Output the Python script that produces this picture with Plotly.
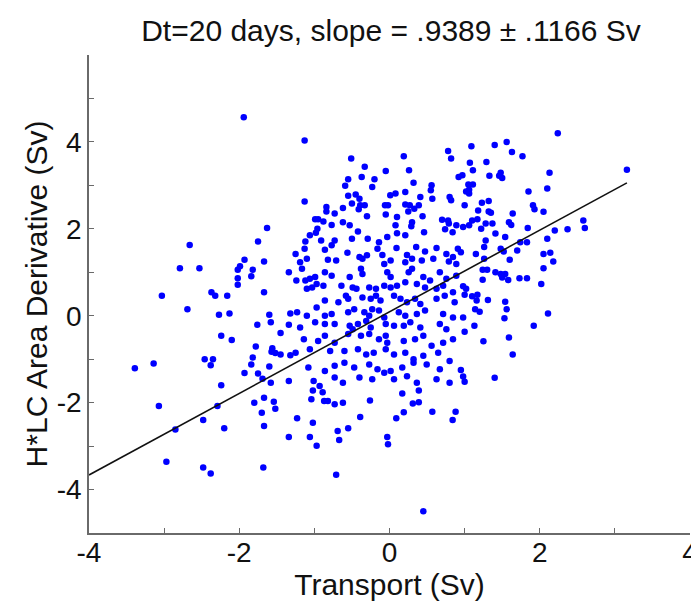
import plotly.graph_objects as go

# Transport (Sv) and H*LC area derivative (Sv)
transport = [
    -1.94, -1.63, -1.75, -2.66,
    -2.79, -2.53, -1.93, -1.99, -2.02, -1.82, -1.84, -2.02, -2.02, -1.67, -1.34, -3.03, -2.69,
    -2.37, -2.32, -2.16, -1.67, -2.27, -2.13, -1.60, -1.58, -1.76, -1.34, -1.32, -1.45, -2.24,
    -2.10, -1.78, -1.56, -1.52, -1.45, -1.57, -1.32, -1.82, -1.84, -1.60, -3.39, -3.14, -2.46,
    -2.35, -2.38, -1.93, -1.75, -1.69, -2.24, -1.58, -1.34,
    -3.07, -2.29, -2.48, -2.85, -2.20, -1.80, -1.67, -1.54, -1.52, -1.70, -1.67, -1.34, -2.97,
    -2.48, -2.38, -1.68,
    -1.02, -0.89, -1.04, -0.87, -0.82, -0.73, -0.62, -0.93, -0.26, -1.23, -1.02, -1.06, -0.97,
    -0.69, -0.67, -0.55, -0.39, -0.03, -0.02, -0.71, 0.45, 0.17, 0.39, 0.31, 0.39, 0.19, 0.09,
    0.57, 0.88, 0.84,
]
derivative = [
    4.57, 2.02, 1.71, 1.63,
    1.09, 1.09, 1.29, 1.14, 1.06, 1.06, 0.91, 0.86, 0.71, 1.25, 1.00, 0.46, 0.15,
    0.54, 0.46, 0.46, 0.54, 0.02, 0.05, 0.02, -0.15, -0.21, -0.21, 0.05, -0.40, -0.46,
    -0.56, -0.71, -0.75, -0.86, -0.89, -0.83, -0.91, -0.96, -1.12, -1.17, -1.21, -1.10, -1.00,
    -1.00, -1.14, -1.32, -1.33, -1.45, -1.60, -1.54, -1.50,
    -2.08, -2.08, -2.40, -2.62, -2.59, -2.00, -1.89, -1.98, -2.14, -2.23, -2.54, -2.79, -3.36,
    -3.49, -3.63, -3.49,
    -1.72, -1.76, -1.92, -1.96, -1.96, -2.04, -2.00, -1.62, -1.95, -2.36, -2.46, -2.79, -2.99,
    -2.65, -2.86, -2.59, -2.33, -2.79, -2.96, -3.66, -4.50, -1.79, -1.72, -2.02, -1.99, -2.22, -2.36,
    -2.21, -2.21, -2.40,
]

transport_b = [
    0.95, 1.15, 1.26, 1.26, 1.48, 1.52, 1.70, 1.60, 2.05, 2.14, 2.18, 2.05, 2.02, 1.73, 1.83,
    1.24, 1.30, 1.24, 1.41, 1.48, 1.54, 1.50, 1.58, 0.98, 1.02, 1.00, 1.10, 1.17, 1.16, 1.31,
    1.54, 1.56, 1.14, 1.20, 0.98, 1.53, 2.11, 1.13, 1.00, 1.92, 1.59, 1.25, 1.64, 1.40, 0.95,
    0.98, 1.00,
    2.24, 3.16, 1.09, 1.40, 1.56, 1.63, 1.77, 1.29, 1.07, 1.11, 0.97, 1.33, 1.46, 1.50, 1.48,
    2.13, 2.10, 1.85, 1.05, 1.11, 1.06, 1.02, 1.06, 1.00, 1.23, 1.32, 1.18, 1.32, 1.35, 1.64,
    1.91, 1.93, 2.05, 1.59, 1.62, 1.10, 1.17, 1.28, 1.37, 0.98, 1.06, 1.22, 1.41, 1.54, 1.84,
    2.20, 2.37, 2.58, 2.60, 2.10, 1.28, 1.74, 1.83,
]
derivative_b = [
    1.46, 1.42, 1.58, 1.31, 1.54, 1.48, 1.50, 1.29, 1.42, 1.45, 1.25, 1.09, 0.73, 0.86, 0.86,
    1.06, 1.06, 0.83, 1.00, 0.96, 0.96, 0.88, 0.82, 0.68, 0.62, 0.48, 0.45, 0.48, 0.35, 0.36,
    0.32, 0.15, 0.15, 0.09, -0.04, -0.06, 0.05, -0.23, -0.37, -0.23, -0.50, -0.59, -0.89, -1.43, -1.25,
    -1.40, -1.52,
    4.20, 3.36, 3.90, 3.93, 4.00, 3.77, 3.67, 3.54, 3.52, 3.35, 3.23, 3.22, 3.22, 3.17, 3.29,
    3.29, 2.93, 2.86, 3.02, 3.02, 2.90, 2.86, 2.81, 2.54, 2.60, 2.64, 2.42, 2.40, 2.37, 2.35,
    2.54, 2.45, 2.39, 2.15, 2.09, 2.19, 2.22, 2.12, 2.12, 2.04, 2.08, 2.00, 1.89, 1.81, 2.02,
    1.96, 1.99, 2.19, 2.02, 1.77, 1.73, 1.69, 1.69,
]

transport_c = [
    -1.13, -1.13, -0.51, -0.33, 0.19, 0.26, -0.05, -0.37, -0.20, -0.55, -0.59, -0.23, 0.32, 0.78,
    0.82, 0.92, 0.56, 0.55, 0.57, 0.80, 0.82, -0.55, -0.45, -0.40, -0.50, -0.39, -0.33, -0.41,
    -0.30, -0.84, -0.84, -0.73, -0.62, 0.01, 0.08, 0.21, -0.06, -0.02, -0.05, 0.10, 0.21, 0.27,
    0.33, 0.39, 0.41, 0.25, 0.44, 0.30, 0.29, 0.08, 0.10, 0.21, 0.46, 0.70, 0.78, 0.79, 0.84,
    0.74, 0.89, -0.99, -0.95, -0.88, -0.77, -0.62, -0.53, -0.42, -0.29, -0.96, -0.98, -1.06,
    -1.12, -0.91, -0.73, -0.50, -0.03, -0.14,
]
derivative_c = [
    4.03, 2.63, 3.62, 3.43, 3.67, 3.35, 3.33, 3.19, 3.14, 3.14, 2.99, 2.96, 3.06, 3.79,
    3.62, 3.19, 3.00, 2.89, 2.69, 2.73, 2.66, 2.76, 2.79, 2.69, 2.58, 2.54, 2.54, 2.45,
    2.29, 2.50, 2.40, 2.35, 2.48, 2.77, 2.81, 2.85, 2.54, 2.54, 2.33, 2.27, 2.56, 2.54,
    2.46, 2.54, 2.73, 2.40, 2.29, 2.15, 2.06, 2.08, 1.90, 1.85, 1.92, 2.21, 2.19, 2.12, 1.92,
    1.99, 2.08, 2.22, 2.22, 2.17, 2.09, 2.15, 2.08, 1.94, 1.77, 2.00, 1.91, 1.85,
    1.71, 1.73, 1.73, 1.77, 1.81, 1.69,
]

# dense central cloud
transport_d = [
    -1.25, -1.13, -0.86, -0.77, -0.56, -0.40, -0.30, -0.16, -0.095, 0.093, 0.233, 0.355, 0.473,
    0.626, 0.757, 0.91, 0.845,
    -1.19, -1.10, -0.82, -0.71, -0.36, -0.07, 0.015, 0.21, 0.30, 0.43, 0.583, 0.79, 0.889,
    -1.165, -1.06, -0.99, -0.86, -0.77, -0.53, -0.38, -0.36, -0.03, 0.015, 0.255, 0.30, 0.45,
    0.54, 0.67, 0.757, 0.889, -1.24, -1.12,
    -1.10, -1.03, -0.97, -0.88, -0.64, -0.49, -0.44, -0.27, -0.18, -0.07, 0.015, 0.10, 0.21,
    0.364, 0.473, 0.626, 0.714, 0.845,
    -0.86, -0.68, -0.55, -0.58, -0.36, -0.25, -0.18, -0.12, 0.06, 0.146, 0.233, 0.34, 0.41,
    0.626, 0.735, 0.867, -0.97,
    -1.23, -1.10, -0.86, -0.77, -0.55, -0.47, -0.335, -0.27, -0.23, -0.14, -0.07, 0.124, 0.21,
    0.364, 0.473, 0.714, 0.845,
    -1.19, -0.99, -0.86, -0.73, -0.53, -0.49, -0.42, -0.31, -0.25, -0.05, 0.06, 0.19, 0.277,
    0.41, 0.67, 0.757,
    -1.14, -0.95, -0.86, -0.73, -0.55, -0.38, -0.27, -0.14, -0.05, -0.03, 0.19, 0.34, 0.45,
    0.56, 0.714, 0.845,
    -1.25, -1.06, -0.79, -0.60, -0.42, -0.31, -0.21, -0.05, 0.06, 0.21, 0.32, 0.45, 0.648,
    -1.08, -0.86, -0.73, -0.60, -0.47, -0.27, -0.16, 0.015, 0.17, 0.32, 0.495, 0.67, 0.80,
    -1.01, -0.73, -0.62, -0.40, -0.23, -0.07, 0.06, 0.233, 0.364, 0.626, 0.80,
]
derivative_d = [
    1.42, 1.54, 1.52, 1.62, 1.45, 1.35, 1.39, 1.54, 1.40, 1.56, 1.40, 1.58, 1.48,
    1.56, 1.42, 1.54, 1.35,
    1.23, 1.31, 1.29, 1.27, 1.31, 1.19, 1.27, 1.23, 1.31, 1.27, 1.31, 1.25, 1.19,
    1.08, 0.85, 0.89, 1.00, 0.92, 0.89, 1.08, 0.96, 1.00, 0.89, 1.00, 1.08, 0.89,
    0.81, 1.00, 0.85, 0.92, 0.81, 0.81,
    0.62, 0.65, 0.73, 0.69, 0.69, 0.65, 0.62, 0.65, 0.62, 0.69, 0.65, 0.69, 0.77,
    0.73, 0.65, 0.62, 0.69, 0.54,
    0.35, 0.31, 0.39, 0.46, 0.42, 0.39, 0.46, 0.35, 0.46, 0.39, 0.31, 0.39, 0.27,
    0.39, 0.46, 0.31, 0.19,
    0.08, 0.00, 0.00, 0.04, 0.08, 0.15, 0.08, 0.00, 0.15, 0.12, -0.04, 0.08, 0.00,
    0.04, 0.12, 0.04, -0.04,
    -0.27, -0.15, -0.19, -0.19, -0.23, -0.31, -0.19, -0.12, -0.27, -0.19, -0.23, -0.23, -0.15,
    -0.27, -0.19, -0.31,
    -0.54, -0.58, -0.46, -0.62, -0.42, -0.46, -0.42, -0.54, -0.46, -0.62, -0.58, -0.54, -0.46,
    -0.69, -0.62, -0.54,
    -0.85, -0.77, -0.81, -0.81, -0.77, -0.89, -0.85, -0.77, -0.89, -0.85, -1.00, -0.92, -0.85,
    -1.19, -1.27, -1.15, -1.08, -1.19, -1.12, -1.23, -1.27, -1.19, -1.08, -1.12, -1.23, -1.04,
    -1.50, -1.42, -1.54, -1.42, -1.46, -1.31, -1.46, -1.39, -1.54, -1.46, -1.54,
]

x_all = transport + transport_b + transport_c + transport_d
y_all = derivative + derivative_b + derivative_c + derivative_d

slope = 0.9389
intercept = 0.09
fit_x = [-4.0, max(x_all)]
fit_y = [slope * v + intercept for v in fit_x]

x_ticks = [-4, -3, -2, -1, 0, 1, 2, 3, 4]
x_ticktext = ["-4", "", "-2", "", "0", "", "2", "", "4"]
y_ticks = [-5, -4, -3, -2, -1, 0, 1, 2, 3, 4, 5, 6]
y_ticktext = ["", "-4", "", "-2", "", "0", "", "2", "", "4", "", ""]

FONT = "Liberation Sans, Arial, Helvetica, sans-serif"

# the page body adds an 8 px offset, so the figure is 8 px smaller than the window
W, H = 691, 596

fig = go.Figure()
fig.add_trace(go.Scatter(x=x_all, y=y_all, mode="markers",
                         marker=dict(color="rgb(0,0,255)", size=6.5, line=dict(width=0)),
                         hoverinfo="skip"))
fig.add_trace(go.Scatter(x=fit_x, y=fit_y, mode="lines",
                         line=dict(color="#111111", width=1.6), hoverinfo="skip"))

axis_common = dict(showgrid=False, zeroline=False, showline=True, linecolor="#6a6a6a",
                   linewidth=1.5, ticks="inside", ticklen=5, tickwidth=1.2, tickcolor="#6a6a6a",
                   tickfont=dict(family=FONT, size=28, color="#111"),
                   mirror=False, automargin=False, ticklabeloverflow="allow")

fig.update_layout(
    width=W, height=H,
    paper_bgcolor="white", plot_bgcolor="white",
    margin=dict(l=81, r=9, t=47, b=71),
    showlegend=False,
    title=dict(text="Dt=20 days, slope = .9389 ± .1166 Sv",
               font=dict(family=FONT, size=30, color="#111"),
               x=383 / W, xref="container", xanchor="center",
               y=1 - 22 / H, yref="container", yanchor="middle"),
    xaxis=dict(range=[-4, 4], tickvals=x_ticks, ticktext=x_ticktext,
               ticklabelstandoff=-6,
               title=dict(text="Transport (Sv)", standoff=0,
                          font=dict(family=FONT, size=30, color="#111")),
               **axis_common),
    yaxis=dict(range=[-5, 6], tickvals=y_ticks, ticktext=y_ticktext,
               title=dict(text="H*LC Area Derivative (Sv)", standoff=0,
                          font=dict(family=FONT, size=30, color="#111")),
               **axis_common),
)

fig.write_html("out.html")
